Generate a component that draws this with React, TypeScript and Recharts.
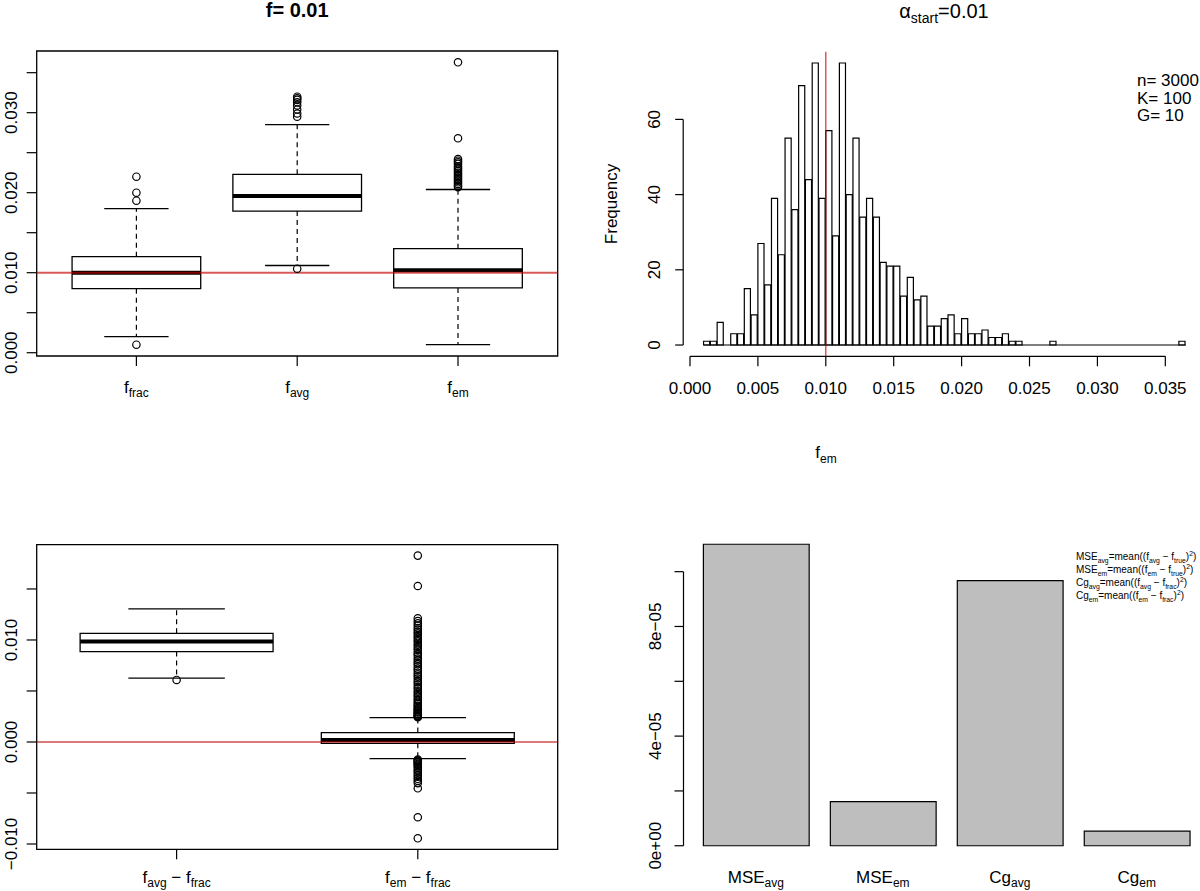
import React from 'react';
import { ComposedChart, XAxis, YAxis, Bar, Scatter, ReferenceLine, ReferenceArea } from 'recharts';

const FONT = '"Liberation Sans", Arial, Helvetica, sans-serif';
const INK = '#000';
const RED = '#c00000';

// top-left boxplot: f estimates (subscript names)
const topSubs = ['frac', 'avg', 'em'];
const topLower = [0.002, 0.0109, 0.001];
const topQ1 = [0.008, 0.0177, 0.0081];
const topMedian = [0.01, 0.0196, 0.0103];
const topQ3 = [0.012, 0.0223, 0.013];
const topUpper = [0.018, 0.0285, 0.0204];
const fracOutliers = [0.022, 0.02, 0.019, 0.001];
const avgOutliers = [0.032, 0.0318, 0.0316, 0.0313, 0.0309, 0.0304, 0.0299, 0.0295, 0.0105];
const emOutliers = [
  0.0363, 0.0268, 0.0242, 0.024, 0.0238, 0.0236, 0.0233, 0.0231, 0.0229, 0.0227, 0.0225,
  0.0223, 0.0221, 0.0219, 0.0217, 0.0215, 0.0213, 0.0211, 0.0209, 0.0207,
];
const topYTicks = [0, 0.005, 0.01, 0.015, 0.02, 0.025, 0.03, 0.035];
const topYLabelled = [0, 0.01, 0.02, 0.03];
const topYLabels = ['0.000', '0.010', '0.020', '0.030'];

// bottom-left boxplot: differences
const diffSubs = [['avg', 'frac'], ['em', 'frac']];
const diffLower = [0.00627, -0.00163];
const diffQ1 = [0.00886, -0.00013];
const diffMedian = [0.00984, 0.0002];
const diffQ3 = [0.01065, 0.00092];
const diffUpper = [0.01304, 0.00239];
const avgFracOutliers = [0.00608];
const emFracOutliers = [
  0.01827, 0.01529, 0.01212, 0.01185, 0.01163, 0.01142, 0.01118, 0.01101, 0.01079, 0.01062,
  0.01038, 0.01021, 0.01, 0.00983, 0.00958, 0.00941, 0.00919, 0.00902, 0.00878, 0.00861,
  0.00843, 0.00819, 0.00802, 0.00778, 0.00763, 0.00741, 0.00719, 0.00703, 0.00679, 0.00662,
  0.00641, 0.00622, 0.00598, 0.00583, 0.00561, 0.00539, 0.00522, 0.00498, 0.00481, 0.00459,
  0.00442, 0.00418, 0.00403, 0.00384, 0.00371, 0.00355, 0.00344, 0.00329, 0.00321, 0.00308,
  0.00297, 0.00289, 0.00278, 0.00271, 0.00261, 0.00254, 0.00247, 0.00242,
  -0.00171, -0.00179, -0.00185, -0.00196, -0.00203, -0.00215, -0.00224, -0.00239, -0.00251,
  -0.00269, -0.00284, -0.00302, -0.00323, -0.0034, -0.00361, -0.0038, -0.00403, -0.00454,
  -0.00738, -0.00944,
];
const diffYTicks = [-0.01, -0.005, 0, 0.005, 0.01, 0.015];
const diffYLabelled = [-0.01, 0, 0.01];
const diffYLabels = ['\u22120.010', '0.000', '0.010'];

// top-right histogram of f_em (bin width 0.0005)
const HIST_BIN = 0.0005;
const histBinStart = [
  0.001, 0.0015, 0.002, 0.003, 0.0035, 0.004, 0.0045, 0.005, 0.0055, 0.006, 0.0065, 0.007,
  0.0075, 0.008, 0.0085, 0.009, 0.0095, 0.01, 0.0105, 0.011, 0.0115, 0.012, 0.0125, 0.013,
  0.0135, 0.014, 0.0145, 0.015, 0.0155, 0.016, 0.0165, 0.017, 0.0175, 0.018, 0.0185, 0.019,
  0.0195, 0.02, 0.0205, 0.021, 0.0215, 0.022, 0.0225, 0.023, 0.0235, 0.024, 0.0265, 0.036,
];
const histCounts = [
  1, 1, 6, 3, 3, 15, 8, 27, 16, 39, 24, 55, 36, 69, 44, 75, 39, 57, 29, 75, 40, 55, 34, 39,
  34, 22, 21, 21, 13, 18, 12, 13, 5, 5, 7, 8, 3, 7, 3, 3, 4, 2, 2, 3, 1, 1, 1, 1,
];
const histXTicks = [0, 0.005, 0.01, 0.015, 0.02, 0.025, 0.03, 0.035];
const histYTicks = [0, 20, 40, 60];
const histLegend = ['n= 3000', 'K= 100', 'G= 10'];

// bottom-right barplot
const barNames = [['MSE', 'avg'], ['MSE', 'em'], ['Cg', 'avg'], ['Cg', 'em']];
const barValues = [1.1e-4, 1.61e-5, 9.67e-5, 5.3e-6];
const barYTicks = [0, 2e-5, 4e-5, 6e-5, 8e-5, 1e-4];
const barYLabelled = [0, 4e-5, 8e-5];
const barYLabels = ['0e+00', '4e\u221205', '8e\u221205'];
const barFormulas = [
  ['MSE', 'avg', 'avg', 'true'],
  ['MSE', 'em', 'em', 'true'],
  ['Cg', 'avg', 'avg', 'frac'],
  ['Cg', 'em', 'em', 'frac'],
];

type Seg = { t: string; s?: 'sub' | 'sup' };

function MathText(props: {
  x: number; y: number; segs: Seg[]; size: number; small: number; sub: number; sup?: number;
  anchor?: 'start' | 'middle' | 'end'; weight?: string; transform?: string;
}) {
  const { x, y, segs, size, small, sub, sup = 0, anchor = 'middle', weight = 'normal', transform } = props;
  let shift = 0;
  return (
    <text x={x} y={y} textAnchor={anchor} fontFamily={FONT} fontSize={size} fontWeight={weight}
      fill={INK} transform={transform} style={{ whiteSpace: 'pre' }}>
      {segs.map((seg, i) => {
        const target = seg.s === 'sub' ? sub : seg.s === 'sup' ? -sup : 0;
        const dy = target - shift;
        shift = target;
        return <tspan key={i} dy={dy} fontSize={seg.s ? small : size}>{seg.t}</tspan>;
      })}
    </text>
  );
}

const labelAt = (vals: number[], labels: string[], v: number) => {
  const i = vals.findIndex((d) => Math.abs(d - v) < 1e-12);
  return i < 0 ? '' : labels[i];
};

const rotTick = (vals: number[], labels: string[], dx: number) => (p: any) => {
  const label = labelAt(vals, labels, p.payload.value);
  return (
    <text transform={`translate(${p.x + dx},${p.y}) rotate(-90)`} textAnchor="middle"
      fontFamily={FONT} fontSize={17} fill={INK}>{label}</text>
  );
};

const OpenCircle = (p: any) => (
  <circle cx={p.cx} cy={p.cy} r={3.7} fill="none" stroke={INK} strokeWidth={1.2} />
);

type BoxStat = { pos: number; lower: number; q1: number; median: number; q3: number; upper: number };

function boxElements(stats: BoxStat[], half: number, cap: number, key: string) {
  return stats.flatMap((b, i) => [
    <ReferenceLine key={`${key}uw${i}`} ifOverflow="visible" stroke={INK} strokeWidth={1.2} strokeDasharray="5 4"
      segment={[{ x: b.pos, y: b.q3 }, { x: b.pos, y: b.upper }]} />,
    <ReferenceLine key={`${key}lw${i}`} ifOverflow="visible" stroke={INK} strokeWidth={1.2} strokeDasharray="5 4"
      segment={[{ x: b.pos, y: b.q1 }, { x: b.pos, y: b.lower }]} />,
    <ReferenceLine key={`${key}uc${i}`} ifOverflow="visible" stroke={INK} strokeWidth={1.3}
      segment={[{ x: b.pos - cap, y: b.upper }, { x: b.pos + cap, y: b.upper }]} />,
    <ReferenceLine key={`${key}lc${i}`} ifOverflow="visible" stroke={INK} strokeWidth={1.3}
      segment={[{ x: b.pos - cap, y: b.lower }, { x: b.pos + cap, y: b.lower }]} />,
    <ReferenceArea key={`${key}bx${i}`} ifOverflow="visible" x1={b.pos - half} x2={b.pos + half} y1={b.q1} y2={b.q3}
      fill="none" fillOpacity={0} stroke={INK} strokeWidth={1.3} />,
    <ReferenceLine key={`${key}md${i}`} ifOverflow="visible" stroke={INK} strokeWidth={4}
      segment={[{ x: b.pos - half, y: b.median }, { x: b.pos + half, y: b.median }]} />,
  ]);
}

const topStats: BoxStat[] = topSubs.map((_, i) => ({
  pos: i + 1, lower: topLower[i], q1: topQ1[i], median: topMedian[i], q3: topQ3[i], upper: topUpper[i],
}));
const topPoints = [
  ...fracOutliers.map((y) => ({ x: 1, y })),
  ...avgOutliers.map((y) => ({ x: 2, y })),
  ...emOutliers.map((y) => ({ x: 3, y })),
];
const diffStats: BoxStat[] = diffSubs.map((_, i) => ({
  pos: i + 1, lower: diffLower[i], q1: diffQ1[i], median: diffMedian[i], q3: diffQ3[i], upper: diffUpper[i],
}));
const diffPoints = [
  ...avgFracOutliers.map((y) => ({ x: 1, y })),
  ...emFracOutliers.map((y) => ({ x: 2, y })),
];
const histData = histBinStart.map((s, i) => ({ mid: s + HIST_BIN / 2, count: histCounts[i] }));
const BAR_W = 1;
const BAR_SPACE = 0.2;
const barData = barNames.map((_, i) => ({
  pos: BAR_SPACE + BAR_W / 2 + i * (BAR_W + BAR_SPACE), value: barValues[i],
}));

const TOP_Y: [number, number] = [-0.00041, 0.03771];
const DIFF_Y: [number, number] = [-0.01052, 0.01934];
const HIST_X: [number, number] = [-0.0005, 0.0379];
const HIST_Y: [number, number] = [-3, 78];
const BAR_X: [number, number] = [0.016, 4.984];
const BAR_Y: [number, number] = [-4.4e-6, 1.144e-4];
const HIST_PX = 521.5 / (HIST_X[1] - HIST_X[0]);
const BAR_PX = 525.6 / (BAR_X[1] - BAR_X[0]);

const abs = (left: number, top: number): React.CSSProperties => ({ position: 'absolute', left, top });

export default function App() {
  const tickLine = { stroke: INK, strokeWidth: 1.2 };
  return (
    <div style={{ position: 'absolute', left: 0, top: 0, width: 1200, height: 891, overflow: 'hidden', background: '#fff' }}>
      {/* top-left */}
      <div style={abs(0, 0)}>
        <ComposedChart width={600} height={420} margin={{ top: 51, right: 42.3, left: 0, bottom: 0 }}>
          <XAxis type="number" dataKey="x" domain={[0.38, 3.62]} allowDataOverflow ticks={[1, 2, 3]} interval={0}
            height={64} tickSize={10} tickMargin={0} axisLine={false} tickLine={tickLine}
            tick={(p: any) => (
              <MathText x={p.x} y={p.y + 26.5} size={17} small={12} sub={4.5}
                segs={[{ t: 'f' }, { t: topSubs[Math.round(p.payload.value) - 1], s: 'sub' }]} />
            )} />
          <YAxis type="number" dataKey="y" domain={TOP_Y} allowDataOverflow ticks={topYTicks} interval={0}
            width={36.7} tickSize={10} tickMargin={0} axisLine={false} tickLine={tickLine}
            tick={rotTick(topYLabelled, topYLabels, -10.2)} />
          <ReferenceArea x1={0.38} x2={3.62} y1={TOP_Y[0]} y2={TOP_Y[1]} ifOverflow="visible"
            fill="none" fillOpacity={0} stroke={INK} strokeWidth={1.3} />
          {boxElements(topStats, 0.4, 0.2, 't')}
          <Scatter data={topPoints} dataKey="y" shape={OpenCircle} isAnimationActive={false} />
          <ReferenceLine y={0.01} stroke={RED} strokeOpacity={0.65} strokeWidth={2} ifOverflow="visible" />
        </ComposedChart>
      </div>

      {/* bottom-left */}
      <div style={abs(0, 520)}>
        <ComposedChart width={600} height={371} margin={{ top: 24.7, right: 42.3, left: 0, bottom: 0 }}>
          <XAxis type="number" dataKey="x" domain={[0.42, 2.58]} allowDataOverflow ticks={[1, 2]} interval={0}
            height={41.7} tickSize={10} tickMargin={0} axisLine={false} tickLine={tickLine}
            tick={(p: any) => {
              const s = diffSubs[Math.round(p.payload.value) - 1];
              return (
                <MathText x={p.x} y={p.y + 23.7} size={17} small={12} sub={4}
                  segs={[{ t: 'f' }, { t: s[0], s: 'sub' }, { t: ' \u2212 f' }, { t: s[1], s: 'sub' }]} />
              );
            }} />
          <YAxis type="number" dataKey="y" domain={DIFF_Y} allowDataOverflow ticks={diffYTicks} interval={0}
            width={36.7} tickSize={10} tickMargin={0} axisLine={false} tickLine={tickLine}
            tick={rotTick(diffYLabelled, diffYLabels, -10.2)} />
          <ReferenceArea x1={0.42} x2={2.58} y1={DIFF_Y[0]} y2={DIFF_Y[1]} ifOverflow="visible"
            fill="none" fillOpacity={0} stroke={INK} strokeWidth={1.3} />
          {boxElements(diffStats, 0.4, 0.2, 'd')}
          <Scatter data={diffPoints} dataKey="y" shape={OpenCircle} isAnimationActive={false} />
          <ReferenceLine y={0} stroke={RED} strokeOpacity={0.7} strokeWidth={1.3} ifOverflow="visible" />
        </ComposedChart>
      </div>

      {/* top-right histogram */}
      <div style={abs(600, 0)}>
        <ComposedChart width={620} height={420} data={histData} margin={{ top: 51.7, right: 15.3, left: 0, bottom: 0 }}>
          <XAxis type="number" dataKey="mid" domain={HIST_X} allowDataOverflow ticks={histXTicks} interval={0}
            height={63.7} tickSize={10} tickMargin={0} axisLine={false} tickLine={tickLine}
            tick={(p: any) => (
              <text x={p.x} y={p.y + 27.7} textAnchor="middle" fontFamily={FONT} fontSize={17} fill={INK}>
                {Number(p.payload.value).toFixed(3)}
              </text>
            )} />
          <YAxis type="number" domain={HIST_Y} allowDataOverflow ticks={histYTicks} interval={0}
            width={83.2} tickSize={8} tickMargin={0} axisLine={false} tickLine={tickLine}
            tick={rotTick(histYTicks, histYTicks.map(String), -15.2)} />
          <ReferenceLine ifOverflow="visible" stroke={INK} strokeWidth={1.2}
            segment={[{ x: histXTicks[0], y: HIST_Y[0] }, { x: histXTicks[histXTicks.length - 1], y: HIST_Y[0] }]} />
          <ReferenceLine ifOverflow="visible" stroke={INK} strokeWidth={1.2}
            segment={[{ x: HIST_X[0], y: histYTicks[0] }, { x: HIST_X[0], y: histYTicks[histYTicks.length - 1] }]} />
          <ReferenceLine ifOverflow="visible" stroke={INK} strokeWidth={1.2}
            segment={[{ x: histBinStart[0], y: 0 }, { x: histBinStart[histBinStart.length - 1] + HIST_BIN, y: 0 }]} />
          <Bar dataKey="count" barSize={HIST_BIN * HIST_PX} fill="none" stroke={INK} strokeWidth={1.2}
            isAnimationActive={false} />
          <ReferenceLine x={0.01} stroke={RED} strokeOpacity={0.75} strokeWidth={1.3} ifOverflow="visible" />
        </ComposedChart>
      </div>

      {/* bottom-right barplot */}
      <div style={abs(600, 520)}>
        <ComposedChart width={620} height={371} data={barData} margin={{ top: 12.2, right: 10.9, left: 0, bottom: 0 }}>
          <XAxis type="number" dataKey="pos" domain={BAR_X} allowDataOverflow ticks={barData.map((d) => d.pos)} interval={0}
            height={33.2} tickSize={0} tickMargin={0} axisLine={false} tickLine={false}
            tick={(p: any) => {
              const i = barData.findIndex((d) => Math.abs(d.pos - p.payload.value) < 1e-9);
              const n = barNames[i] || ['', ''];
              return (
                <MathText x={p.x} y={p.y + 25.2} size={17} small={12} sub={4}
                  segs={[{ t: n[0] }, { t: n[1], s: 'sub' }]} />
              );
            }} />
          <YAxis type="number" domain={BAR_Y} allowDataOverflow ticks={barYTicks} interval={0}
            width={83.5} tickSize={9} tickMargin={0} axisLine={false} tickLine={tickLine}
            tick={rotTick(barYLabelled, barYLabels, -13.5)} />
          <ReferenceLine ifOverflow="visible" stroke={INK} strokeWidth={1.2}
            segment={[{ x: BAR_X[0], y: barYTicks[0] }, { x: BAR_X[0], y: barYTicks[barYTicks.length - 1] }]} />
          <Bar dataKey="value" barSize={BAR_W * BAR_PX} fill="#bebebe" stroke={INK} strokeWidth={1.2}
            isAnimationActive={false} />
        </ComposedChart>
      </div>

      {/* titles and annotations */}
      <svg width={1200} height={891} style={{ position: 'absolute', left: 0, top: 0, pointerEvents: 'none' }}>
        <text x={297.2} y={16.5} textAnchor="middle" fontFamily={FONT} fontSize={20} fontWeight="bold" fill={INK}>
          f= 0.01
        </text>
        <MathText x={944} y={17.5} size={20} small={14} sub={5}
          segs={[{ t: '\u03b1' }, { t: 'start', s: 'sub' }, { t: '=0.01' }]} />
        {histLegend.map((t, i) => (
          <text key={t} x={1137} y={86 + i * 17.5} fontFamily={FONT} fontSize={17} fill={INK}>{t}</text>
        ))}
        <text transform="translate(617,204) rotate(-90)" textAnchor="middle" fontFamily={FONT} fontSize={17} fill={INK}>
          Frequency
        </text>
        <MathText x={826} y={458} size={17} small={12} sub={4.5} segs={[{ t: 'f' }, { t: 'em', s: 'sub' }]} />
        {barFormulas.map((f, i) => (
          <MathText key={i} x={1076} y={560 + i * 13} anchor="start" size={10} small={6.8} sub={2.6} sup={4}
            segs={[
              { t: f[0] }, { t: f[1], s: 'sub' }, { t: '=mean((f' }, { t: f[2], s: 'sub' },
              { t: ' \u2212 f' }, { t: f[3], s: 'sub' }, { t: ')' }, { t: '2', s: 'sup' }, { t: ')' },
            ]} />
        ))}
      </svg>
    </div>
  );
}
